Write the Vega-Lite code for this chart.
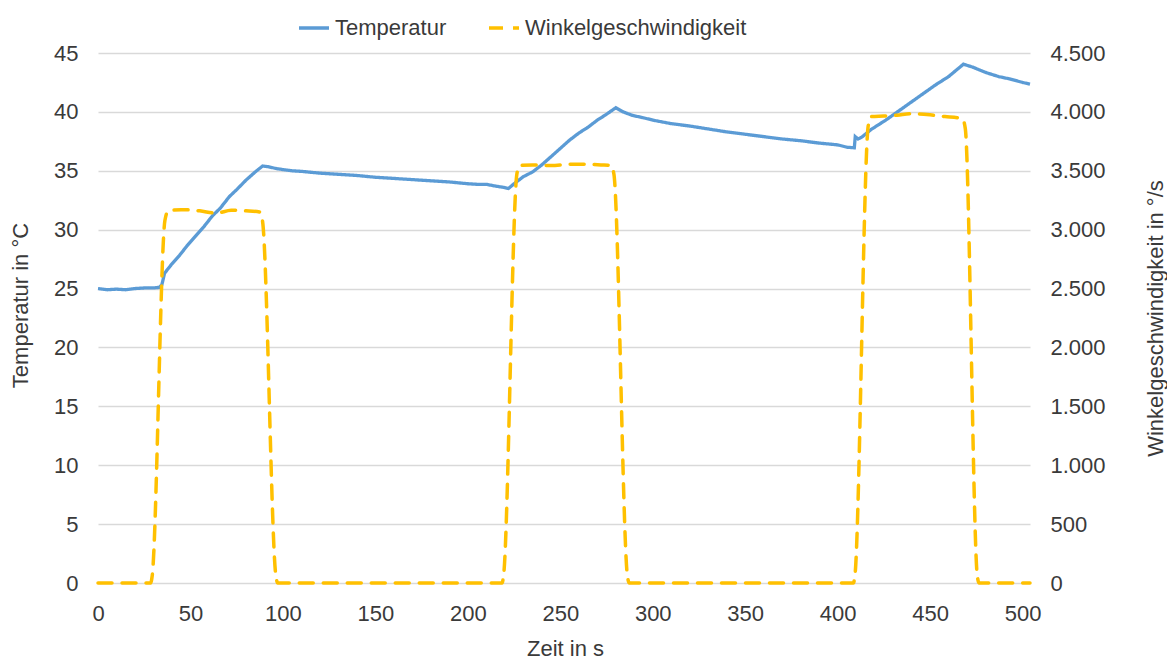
{
  "$schema": "https://vega.github.io/schema/vega-lite/v6.json",
  "autosize": {"type": "none"},
  "padding": {"left": 98, "top": 53, "right": 137, "bottom": 76},
  "width": 932,
  "height": 530,
  "background": "white",
  "config": {
    "view": {"stroke": null},
    "font": "Liberation Sans",
    "axis": {"labelFont": "Liberation Sans", "titleFont": "Liberation Sans", "labelFontSize": 22, "titleFontSize": 22, "labelColor": "#3A3A3A", "titleColor": "#3A3A3A", "titleFontWeight": "normal", "ticks": false, "domain": false},
    "legend": {"labelFont": "Liberation Sans", "labelFontSize": 22, "labelColor": "#3A3A3A", "labelLimit": 0}
  },
  "data": {"values": [
    {"t": 0, "s": "Temperatur", "v": 25.0},
    {"t": 5, "s": "Temperatur", "v": 24.9},
    {"t": 10, "s": "Temperatur", "v": 24.95},
    {"t": 15, "s": "Temperatur", "v": 24.9},
    {"t": 20, "s": "Temperatur", "v": 25.0},
    {"t": 25, "s": "Temperatur", "v": 25.05},
    {"t": 30, "s": "Temperatur", "v": 25.05},
    {"t": 33, "s": "Temperatur", "v": 25.1},
    {"t": 34.5, "s": "Temperatur", "v": 25.3},
    {"t": 36, "s": "Temperatur", "v": 26.3},
    {"t": 40, "s": "Temperatur", "v": 27.1},
    {"t": 44, "s": "Temperatur", "v": 27.8},
    {"t": 48, "s": "Temperatur", "v": 28.6},
    {"t": 53, "s": "Temperatur", "v": 29.5},
    {"t": 57, "s": "Temperatur", "v": 30.2},
    {"t": 62, "s": "Temperatur", "v": 31.2},
    {"t": 66, "s": "Temperatur", "v": 31.8},
    {"t": 71, "s": "Temperatur", "v": 32.8},
    {"t": 75, "s": "Temperatur", "v": 33.4},
    {"t": 80, "s": "Temperatur", "v": 34.2},
    {"t": 85, "s": "Temperatur", "v": 34.9},
    {"t": 89, "s": "Temperatur", "v": 35.4},
    {"t": 92, "s": "Temperatur", "v": 35.35},
    {"t": 96, "s": "Temperatur", "v": 35.2},
    {"t": 100, "s": "Temperatur", "v": 35.1},
    {"t": 105, "s": "Temperatur", "v": 35.0},
    {"t": 110, "s": "Temperatur", "v": 34.95},
    {"t": 120, "s": "Temperatur", "v": 34.8},
    {"t": 130, "s": "Temperatur", "v": 34.7},
    {"t": 140, "s": "Temperatur", "v": 34.6},
    {"t": 150, "s": "Temperatur", "v": 34.45},
    {"t": 160, "s": "Temperatur", "v": 34.35},
    {"t": 170, "s": "Temperatur", "v": 34.25},
    {"t": 180, "s": "Temperatur", "v": 34.15},
    {"t": 190, "s": "Temperatur", "v": 34.05},
    {"t": 200, "s": "Temperatur", "v": 33.9},
    {"t": 205, "s": "Temperatur", "v": 33.85},
    {"t": 210, "s": "Temperatur", "v": 33.85},
    {"t": 215, "s": "Temperatur", "v": 33.7},
    {"t": 219, "s": "Temperatur", "v": 33.6},
    {"t": 222, "s": "Temperatur", "v": 33.5},
    {"t": 225, "s": "Temperatur", "v": 33.9},
    {"t": 230, "s": "Temperatur", "v": 34.5},
    {"t": 235, "s": "Temperatur", "v": 34.9},
    {"t": 240, "s": "Temperatur", "v": 35.5},
    {"t": 245, "s": "Temperatur", "v": 36.2},
    {"t": 250, "s": "Temperatur", "v": 36.9},
    {"t": 255, "s": "Temperatur", "v": 37.6},
    {"t": 260, "s": "Temperatur", "v": 38.2},
    {"t": 265, "s": "Temperatur", "v": 38.7},
    {"t": 270, "s": "Temperatur", "v": 39.3},
    {"t": 275, "s": "Temperatur", "v": 39.8},
    {"t": 280, "s": "Temperatur", "v": 40.35},
    {"t": 284, "s": "Temperatur", "v": 40.0},
    {"t": 289, "s": "Temperatur", "v": 39.7},
    {"t": 295, "s": "Temperatur", "v": 39.5},
    {"t": 300, "s": "Temperatur", "v": 39.3},
    {"t": 310, "s": "Temperatur", "v": 39.0},
    {"t": 320, "s": "Temperatur", "v": 38.8},
    {"t": 330, "s": "Temperatur", "v": 38.55},
    {"t": 340, "s": "Temperatur", "v": 38.3},
    {"t": 350, "s": "Temperatur", "v": 38.1},
    {"t": 360, "s": "Temperatur", "v": 37.9},
    {"t": 370, "s": "Temperatur", "v": 37.7},
    {"t": 380, "s": "Temperatur", "v": 37.55},
    {"t": 390, "s": "Temperatur", "v": 37.35},
    {"t": 400, "s": "Temperatur", "v": 37.2},
    {"t": 405, "s": "Temperatur", "v": 37.0},
    {"t": 409, "s": "Temperatur", "v": 36.95},
    {"t": 409.5, "s": "Temperatur", "v": 37.9},
    {"t": 411, "s": "Temperatur", "v": 37.7},
    {"t": 413, "s": "Temperatur", "v": 37.85},
    {"t": 418, "s": "Temperatur", "v": 38.5},
    {"t": 426, "s": "Temperatur", "v": 39.3},
    {"t": 435, "s": "Temperatur", "v": 40.3},
    {"t": 444, "s": "Temperatur", "v": 41.3},
    {"t": 453, "s": "Temperatur", "v": 42.3},
    {"t": 460, "s": "Temperatur", "v": 43.0},
    {"t": 468, "s": "Temperatur", "v": 44.05},
    {"t": 473, "s": "Temperatur", "v": 43.8},
    {"t": 480, "s": "Temperatur", "v": 43.35},
    {"t": 487, "s": "Temperatur", "v": 43.0},
    {"t": 493, "s": "Temperatur", "v": 42.8},
    {"t": 500, "s": "Temperatur", "v": 42.5},
    {"t": 504, "s": "Temperatur", "v": 42.35},
    {"t": 0, "s": "Winkelgeschwindigkeit", "v": 0},
    {"t": 15, "s": "Winkelgeschwindigkeit", "v": 0},
    {"t": 28.5, "s": "Winkelgeschwindigkeit", "v": 0},
    {"t": 29.3, "s": "Winkelgeschwindigkeit", "v": 60},
    {"t": 36.2, "s": "Winkelgeschwindigkeit", "v": 3080},
    {"t": 38, "s": "Winkelgeschwindigkeit", "v": 3160},
    {"t": 45, "s": "Winkelgeschwindigkeit", "v": 3170},
    {"t": 55, "s": "Winkelgeschwindigkeit", "v": 3160},
    {"t": 64, "s": "Winkelgeschwindigkeit", "v": 3140},
    {"t": 72, "s": "Winkelgeschwindigkeit", "v": 3165},
    {"t": 80, "s": "Winkelgeschwindigkeit", "v": 3160},
    {"t": 87.5, "s": "Winkelgeschwindigkeit", "v": 3150},
    {"t": 89, "s": "Winkelgeschwindigkeit", "v": 3070},
    {"t": 96.2, "s": "Winkelgeschwindigkeit", "v": 60},
    {"t": 97.2, "s": "Winkelgeschwindigkeit", "v": 0},
    {"t": 150, "s": "Winkelgeschwindigkeit", "v": 0},
    {"t": 218.5, "s": "Winkelgeschwindigkeit", "v": 0},
    {"t": 219.3, "s": "Winkelgeschwindigkeit", "v": 60},
    {"t": 226.5, "s": "Winkelgeschwindigkeit", "v": 3470},
    {"t": 228, "s": "Winkelgeschwindigkeit", "v": 3545},
    {"t": 235, "s": "Winkelgeschwindigkeit", "v": 3550},
    {"t": 245, "s": "Winkelgeschwindigkeit", "v": 3545},
    {"t": 255, "s": "Winkelgeschwindigkeit", "v": 3555},
    {"t": 265, "s": "Winkelgeschwindigkeit", "v": 3555},
    {"t": 272, "s": "Winkelgeschwindigkeit", "v": 3550},
    {"t": 277.5, "s": "Winkelgeschwindigkeit", "v": 3545},
    {"t": 279, "s": "Winkelgeschwindigkeit", "v": 3470},
    {"t": 286.3, "s": "Winkelgeschwindigkeit", "v": 60},
    {"t": 287.3, "s": "Winkelgeschwindigkeit", "v": 0},
    {"t": 350, "s": "Winkelgeschwindigkeit", "v": 0},
    {"t": 408.5, "s": "Winkelgeschwindigkeit", "v": 0},
    {"t": 409.3, "s": "Winkelgeschwindigkeit", "v": 60},
    {"t": 416.5, "s": "Winkelgeschwindigkeit", "v": 3880},
    {"t": 418, "s": "Winkelgeschwindigkeit", "v": 3960},
    {"t": 425, "s": "Winkelgeschwindigkeit", "v": 3965},
    {"t": 432, "s": "Winkelgeschwindigkeit", "v": 3972},
    {"t": 440, "s": "Winkelgeschwindigkeit", "v": 3985},
    {"t": 450, "s": "Winkelgeschwindigkeit", "v": 3975},
    {"t": 458, "s": "Winkelgeschwindigkeit", "v": 3960},
    {"t": 465, "s": "Winkelgeschwindigkeit", "v": 3950},
    {"t": 467.5, "s": "Winkelgeschwindigkeit", "v": 3940},
    {"t": 469, "s": "Winkelgeschwindigkeit", "v": 3860},
    {"t": 475.5, "s": "Winkelgeschwindigkeit", "v": 60},
    {"t": 476.5, "s": "Winkelgeschwindigkeit", "v": 0},
    {"t": 490, "s": "Winkelgeschwindigkeit", "v": 0},
    {"t": 504, "s": "Winkelgeschwindigkeit", "v": 0}
  ]},
  "encoding": {
    "x": {"field": "t", "type": "quantitative",
      "scale": {"domain": [0, 504], "nice": false, "zero": false},
      "axis": {"values": [0, 50, 100, 150, 200, 250, 300, 350, 400, 450, 500], "grid": false, "labelFlush": false, "labelPadding": 20, "title": "Zeit in s", "titleX": 467, "titleY": 65, "titleBaseline": "middle"}},
    "color": {"field": "s", "type": "nominal",
      "scale": {"domain": ["Temperatur", "Winkelgeschwindigkeit"], "range": ["#5B9BD5", "#FFC000"]},
      "legend": {"title": null, "orient": "none", "direction": "horizontal", "legendX": 199, "legendY": -42, "symbolType": "stroke", "symbolSize": 900, "symbolStrokeWidth": 3.5, "labelOffset": 4, "columnPadding": 35, "padding": 0}},
    "strokeDash": {"field": "s", "type": "nominal",
      "scale": {"domain": ["Temperatur", "Winkelgeschwindigkeit"], "range": [[1, 0], [14, 10]]},
      "legend": {"title": null, "orient": "none", "direction": "horizontal", "legendX": 199, "legendY": -42, "symbolType": "stroke", "symbolSize": 900, "symbolStrokeWidth": 3.5, "labelOffset": 4, "columnPadding": 35, "padding": 0}}
  },
  "layer": [
    {
      "transform": [{"filter": "datum.s === 'Temperatur'"}],
      "mark": {"type": "line", "strokeWidth": 3.3, "interpolate": "linear"},
      "encoding": {
        "y": {"field": "v", "type": "quantitative",
          "scale": {"domain": [0, 45], "nice": false},
          "axis": {"orient": "left", "values": [0, 5, 10, 15, 20, 25, 30, 35, 40, 45], "grid": true, "gridColor": "#D9D9D9", "gridWidth": 1.3, "labelPadding": 20, "title": "Temperatur in °C", "titleX": -78, "titleY": 252, "titleBaseline": "middle", "titleAngle": 270}}
      }
    },
    {
      "transform": [{"filter": "datum.s === 'Winkelgeschwindigkeit'"}],
      "mark": {"type": "line", "strokeWidth": 3.5, "interpolate": "monotone", "strokeCap": "round"},
      "encoding": {
        "y": {"field": "v", "type": "quantitative",
          "scale": {"domain": [0, 4500], "nice": false},
          "axis": {"orient": "right", "values": [0, 500, 1000, 1500, 2000, 2500, 3000, 3500, 4000, 4500], "grid": false, "labelPadding": 20, "labelExpr": "replace(format(datum.value, ',d'), ',', '.')", "title": "Winkelgeschwindigkeit in °/s", "titleX": 125, "titleY": 265, "titleBaseline": "middle", "titleAngle": 270}}
      }
    }
  ],
  "resolve": {"scale": {"y": "independent"}}
}
